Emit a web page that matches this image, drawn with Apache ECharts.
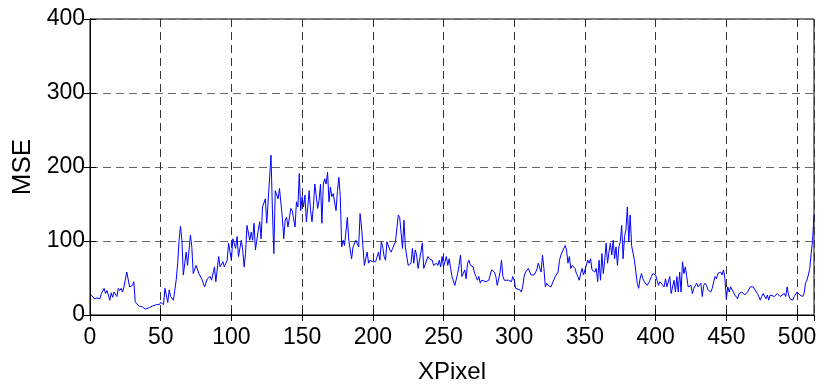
<!DOCTYPE html>
<html>
<head>
<meta charset="utf-8">
<script src="https://cdn.jsdelivr.net/npm/echarts@6/dist/echarts.min.js"></script>
<style>
  html, body { margin: 0; padding: 0; background: #fff; }
  #chart { width: 826px; height: 386px; }
</style>
</head>
<body>
<div id="chart"></div>
<script>
// Column positions along the scan line (x) and the mean squared error at each
const xPixel = [
  1,3,5,7,8,10,11,12,14,15,16,17,19,20,21,22,23,24,26,28,30,31,32,33,35,37,39,42,44,47,49,50,52,53,55,56,57,59,61,62,63,64,65,66,68,
  69,71,72,73,75,77,79,81,83,85,86,88,89,91,92,94,95,97,98,100,101,103,104,105,107,108,109,110,111,113,114,115,116,117,119,120,121,122,123,124,125,126,128,129,130,131,133,134,136,137,138,
  139,140,142,143,145,146,147,148,149,150,151,152,153,154,155,156,157,158,159,161,162,163,164,165,166,167,168,169,170,171,172,174,175,176,177,178,179,180,181,182,183,185,186,187,188,190,191,192,194,195,196,197,198,200,202,204,205,206,207,
  208,209,210,212,213,214,215,216,218,219,220,221,222,223,225,226,227,228,229,230,231,232,233,234,235,236,237,239,240,241,242,243,245,246,247,248,249,250,252,253,254,255,256,258,259,260,261,262,263,265,266,267,268,269,271,272,273,274,275,
  276,277,278,280,282,284,285,286,287,288,290,291,292,293,294,296,297,298,299,300,301,302,304,305,306,307,308,310,311,312,313,314,316,317,318,319,320,321,322,323,324,325,326,327,329,330,331,332,333,334,336,337,338,339,340,341,343,344,
  345,346,347,348,349,350,352,353,354,355,356,357,358,359,360,361,362,363,364,365,366,367,368,369,370,371,372,373,374,375,376,377,378,379,380,381,382,383,384,385,387,388,389,390,391,392,394,395,396,397,398,400,401,402,403,404,406,407,408,409,410,411,413,
  414,415,416,417,418,419,420,421,422,423,424,425,426,427,428,429,430,432,433,434,435,436,437,439,440,441,442,443,444,446,447,448,449,450,451,452,453,455,456,457,458,459,461,
  462,463,465,466,467,468,469,470,472,473,474,475,476,478,479,480,481,482,484,485,486,487,488,489,491,492,493,494,495,497,498,499,500,501,502,504,505,506,507,508,509,510,511,512
];
const mse = [
  27,22,23,22,29,36,29,33,20,30,24,31,25,36,33,36,31,38,58,38,40,45,18,15,12,11,8,10,12,14,14,17,14,36,17,34,25,20,48,70,101,120,101,54,85,
  67,108,92,56,67,56,49,38,49,52,47,65,45,79,65,72,65,74,97,74,103,90,106,79,101,88,65,83,121,101,112,101,124,88,115,126,103,146,148,157,124,124,216,142,83,168,157,171,132,103,128,
  132,119,144,141,119,153,146,191,141,160,146,162,126,146,168,141,126,148,177,144,155,177,124,177,184,177,193,153,173,160,164,141,168,186,160,92,101,94,92,132,101,76,92,90,101,92,137,119,67,76,85,70,74,72,72,85,74,99,92,
  79,74,99,88,85,90,88,99,135,132,130,90,128,92,67,67,70,90,70,88,81,63,74,85,97,63,65,79,76,76,74,67,70,67,74,65,79,65,79,67,76,63,52,40,38,56,67,81,52,61,49,70,74,67,65,56,52,47,52,
  43,47,45,45,47,61,63,58,52,40,58,74,52,47,49,47,47,45,52,47,36,34,34,31,38,52,58,63,58,54,52,54,61,70,72,58,81,63,38,43,40,40,38,38,52,52,58,74,81,83,94,88,70,79,63,67,63,56,
  52,47,56,63,54,56,74,70,76,61,63,58,63,45,74,47,83,56,74,97,70,85,97,81,101,76,92,67,92,99,121,76,106,115,146,99,135,94,92,74,43,36,49,56,49,45,40,43,47,52,56,54,47,40,45,43,38,49,38,36,52,29,47,
  31,52,31,58,31,72,56,65,52,38,36,40,29,36,38,43,38,43,25,40,43,40,34,31,36,34,52,49,56,58,54,61,49,22,38,31,38,31,27,25,22,29,31,
  31,27,31,29,38,36,38,36,29,25,20,25,29,22,27,20,27,29,25,27,29,28,25,27,29,25,38,27,22,20,25,27,31,29,27,25,29,43,47,54,63,83,101,135
];

// Axis ticks
const xTicks = [0, 50, 100, 150, 200, 250, 300, 350, 400, 450, 500];
const yTicks = [0, 100, 200, 300, 400];
const xMax = 512;

const series = xPixel.map((x, i) => [x, mse[i]]);

const FONT = '"Liberation Sans", Arial, sans-serif';
const tickLabel = { color: '#000', fontFamily: FONT, fontSize: 23 };

const chart = echarts.init(document.getElementById('chart'), null, { renderer: 'canvas' });
chart.setOption({
  animation: false,
  backgroundColor: '#fff',
  grid: {
    left: 90, right: 12, top: 19, bottom: 71,
    outerBoundsMode: 'none',
    containLabel: false,
    show: true, borderColor: '#000', borderWidth: 1, backgroundColor: 'transparent'
  },
  xAxis: [{
    type: 'value',
    min: xTicks[0], max: xMax, interval: xTicks[1] - xTicks[0],
    name: 'XPixel', nameLocation: 'middle', nameGap: 45,
    nameTextStyle: { color: '#000', fontFamily: FONT, fontSize: 24 },
    axisLine: { show: true, lineStyle: { color: '#000', width: 1 } },
    axisTick: { show: true, inside: true, length: 6, lineStyle: { color: '#000' } },
    axisLabel: Object.assign({
      margin: 11, showMaxLabel: false,
      formatter: v => (xTicks.indexOf(v) >= 0 ? String(v) : '')
    }, tickLabel),
    splitLine: { show: true, lineStyle: { color: '#333', type: [8, 5], width: 1 } }
  }, {
    type: 'value', position: 'top',
    min: xTicks[0], max: xMax, interval: xTicks[1] - xTicks[0],
    axisLine: { show: true, lineStyle: { color: '#000' } },
    axisTick: { show: true, inside: true, length: 6, lineStyle: { color: '#000' } },
    axisLabel: { show: false }, splitLine: { show: false }
  }],
  yAxis: [{
    type: 'value',
    min: yTicks[0], max: yTicks[yTicks.length - 1], interval: yTicks[1] - yTicks[0],
    name: 'MSE', nameLocation: 'middle', nameGap: 50, nameRotate: 90,
    nameTextStyle: { color: '#000', fontFamily: FONT, fontSize: 26 },
    axisLine: { show: true, lineStyle: { color: '#000', width: 1 } },
    axisTick: { show: true, inside: true, length: 6, lineStyle: { color: '#000' } },
    axisLabel: Object.assign({ margin: 5 }, tickLabel),
    splitLine: { show: true, lineStyle: { color: '#666', type: [8, 5], width: 1 } }
  }, {
    type: 'value', position: 'right',
    min: yTicks[0], max: yTicks[yTicks.length - 1], interval: yTicks[1] - yTicks[0],
    axisLine: { show: true, lineStyle: { color: '#000' } },
    axisTick: { show: true, inside: true, length: 6, lineStyle: { color: '#000' } },
    axisLabel: { show: false }, splitLine: { show: false }
  }],
  series: [{
    type: 'line',
    data: series,
    xAxisIndex: 0, yAxisIndex: 0,
    showSymbol: false,
    symbol: 'none',
    lineStyle: { color: '#0000ff', width: 1 },
    itemStyle: { color: '#0000ff' }
  }]
});
</script>
</body>
</html>
